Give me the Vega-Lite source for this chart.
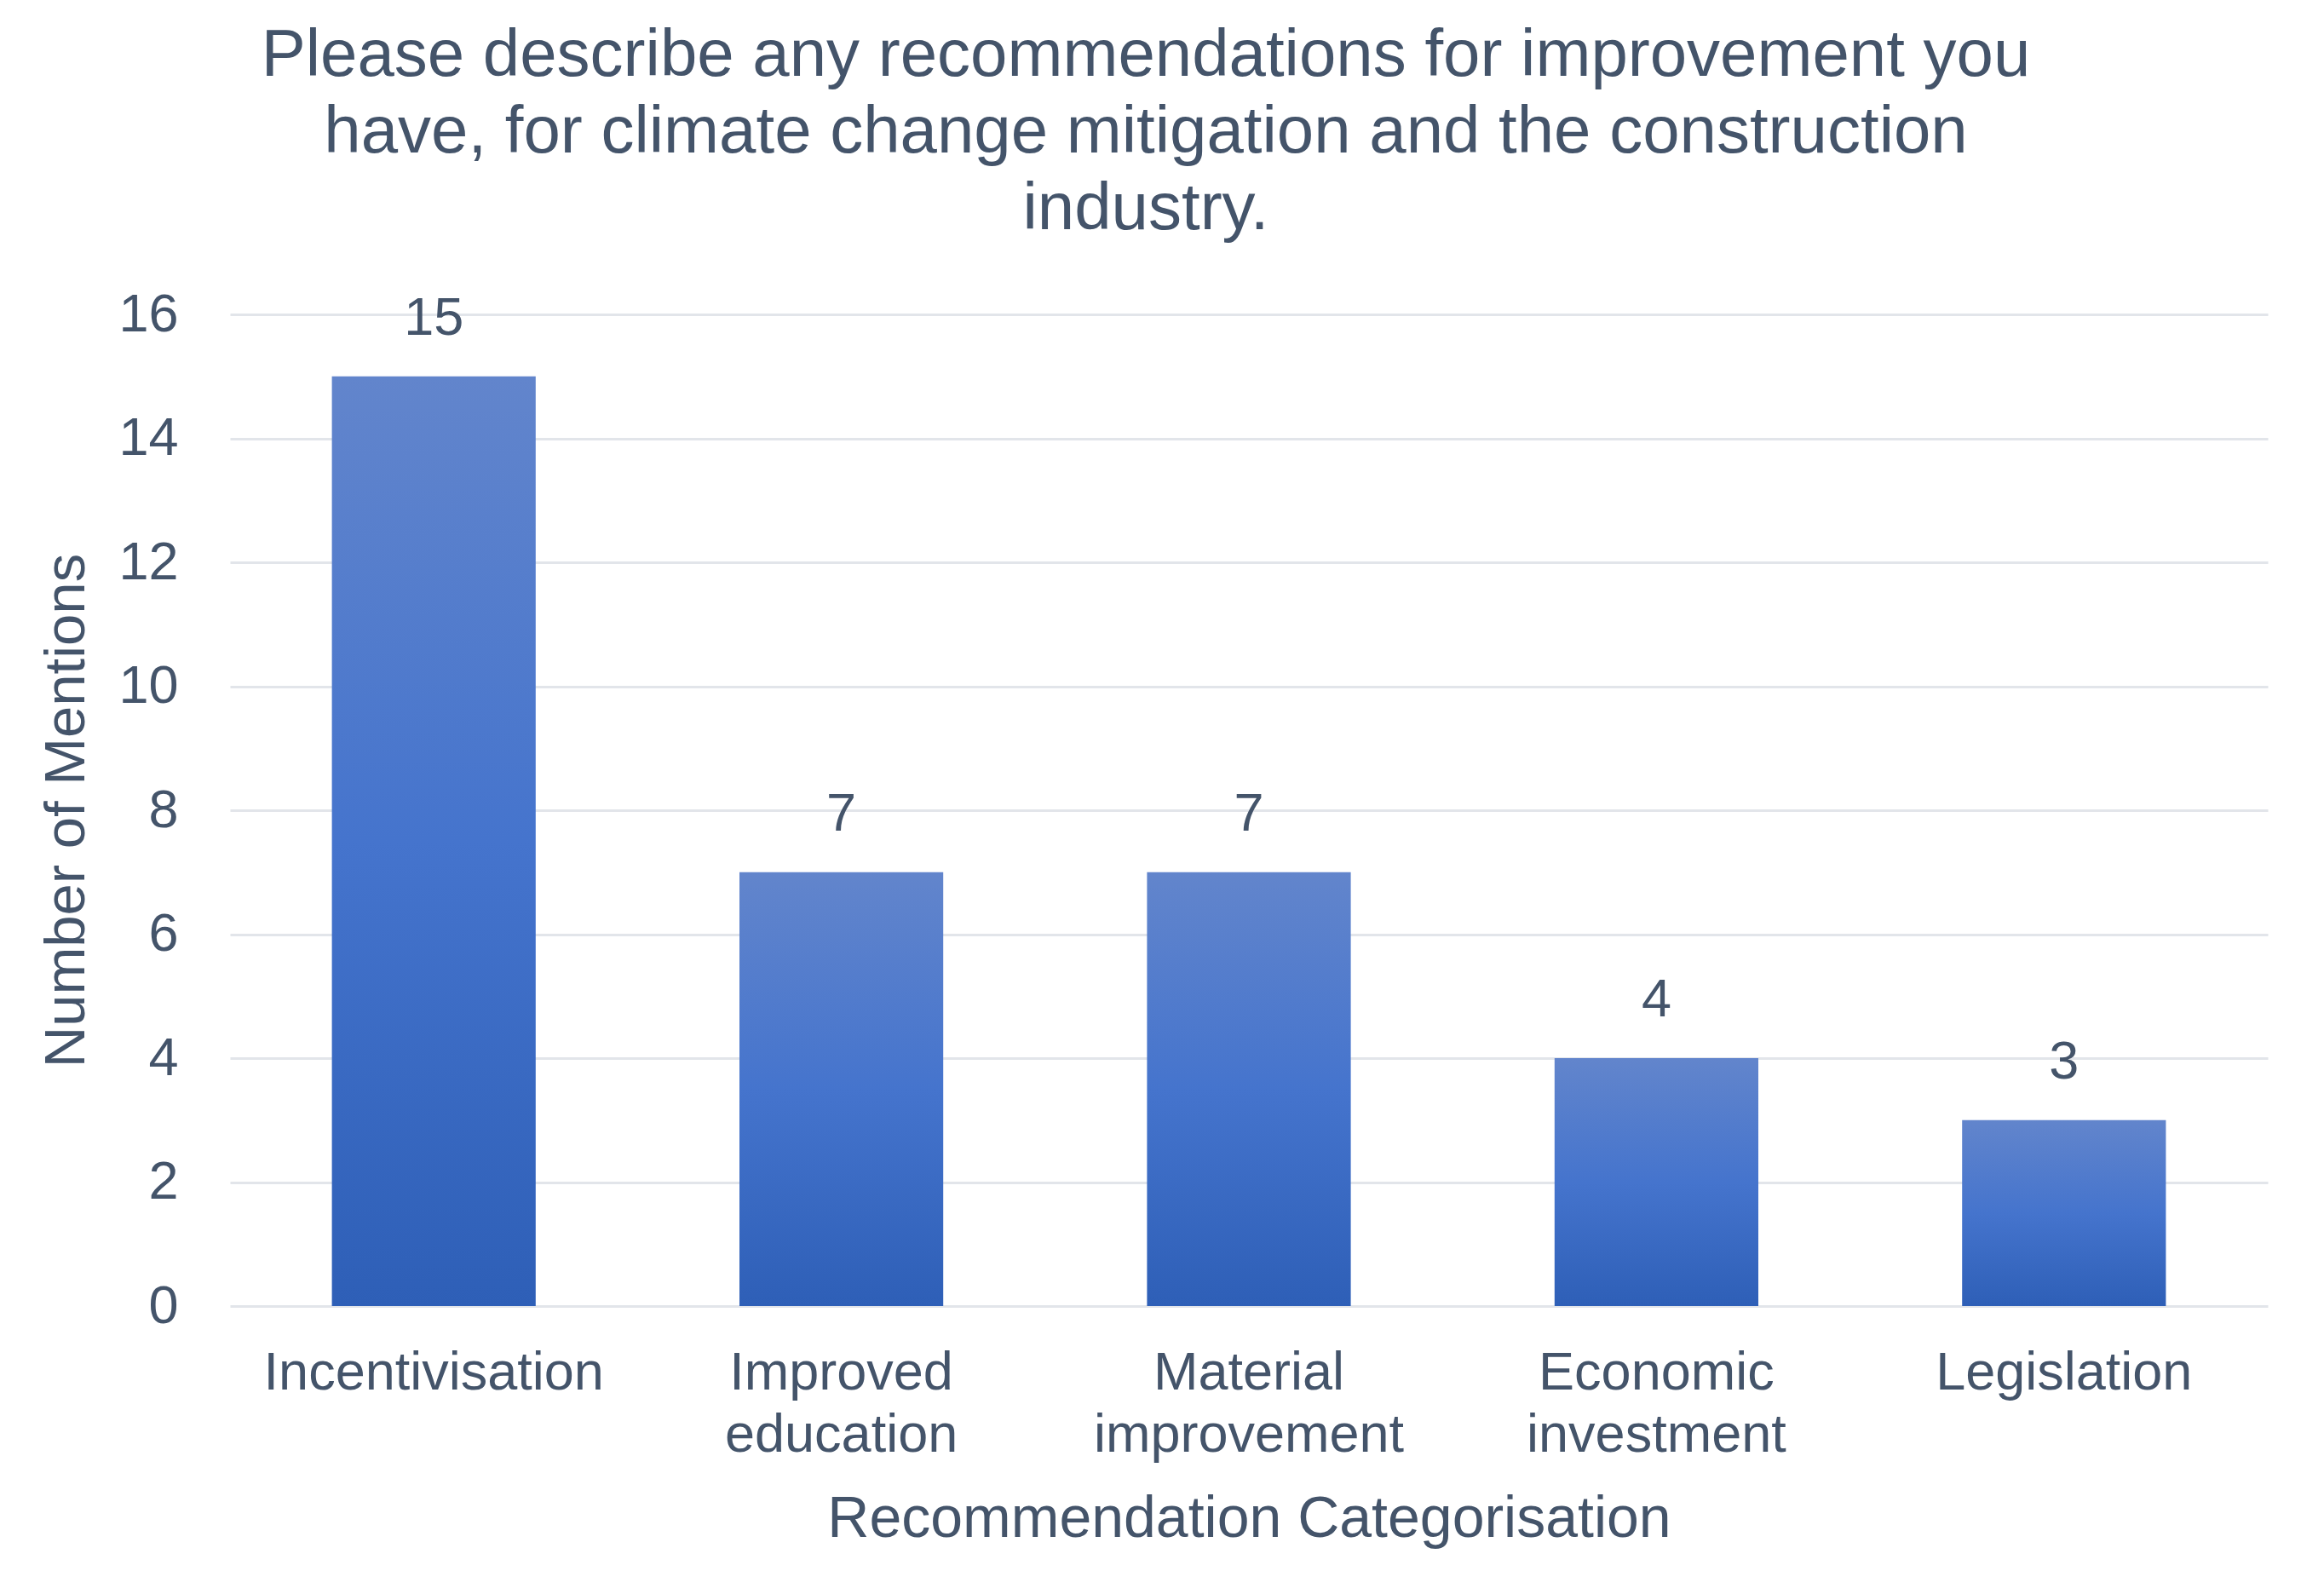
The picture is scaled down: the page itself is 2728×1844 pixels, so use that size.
{
  "$schema": "https://vega.github.io/schema/vega-lite/v6.json",
  "autosize": {"type": "none"},
  "padding": {"left": 270, "top": 369, "right": 66, "bottom": 311},
  "width": 2392,
  "height": 1164,
  "background": "white",
  "config": {"view": {"stroke": null}},
  "title": {
    "text": ["Please describe any recommendations for improvement you", "have, for climate change mitigation and the construction", "industry."],
    "font": "Liberation Sans",
    "fontSize": 78,
    "fontWeight": "normal",
    "color": "#44546A",
    "lineHeight": 90,
    "anchor": "middle",
    "frame": "group",
    "dx": -121,
    "offset": 53
  },
  "data": {
    "values": [
      {"category": "Incentivisation", "mentions": 15},
      {"category": "Improved education", "mentions": 7},
      {"category": "Material improvement", "mentions": 7},
      {"category": "Economic investment", "mentions": 4},
      {"category": "Legislation", "mentions": 3}
    ]
  },
  "encoding": {
    "x": {
      "field": "category",
      "type": "nominal",
      "sort": null,
      "scale": {"paddingInner": 0.5, "paddingOuter": 0.25},
      "axis": {
        "title": "Recommendation Categorisation",
        "titleFont": "Liberation Sans",
        "titleFontSize": 68,
        "titleFontWeight": "normal",
        "titleColor": "#44546A",
        "titleBaseline": "middle",
        "titleY": 250,
        "labelFont": "Liberation Sans",
        "labelFontSize": 63,
        "labelColor": "#44546A",
        "labelAngle": 0,
        "labelPadding": 47,
        "labelLineHeight": 73,
        "labelLimit": 0,
        "labelExpr": "indexof(datum.label, ' ') > 0 ? split(datum.label, ' ') : datum.label",
        "ticks": false,
        "domain": false,
        "grid": false
      }
    },
    "y": {
      "field": "mentions",
      "type": "quantitative",
      "scale": {"domain": [0, 16]},
      "axis": {
        "title": "Number of Mentions",
        "titleFont": "Liberation Sans",
        "titleFontSize": 67,
        "titleFontWeight": "normal",
        "titleColor": "#44546A",
        "titleBaseline": "middle",
        "titleX": -192,
        "labelFont": "Liberation Sans",
        "labelFontSize": 63,
        "labelColor": "#44546A",
        "labelPadding": 61,
        "values": [0, 2, 4, 6, 8, 10, 12, 14, 16],
        "ticks": false,
        "domain": false,
        "grid": true,
        "gridColor": "#E2E5EA",
        "gridWidth": 3
      }
    }
  },
  "layer": [
    {
      "mark": {
        "type": "bar",
        "color": {
          "gradient": "linear",
          "x1": 0, "y1": 0, "x2": 0, "y2": 1,
          "stops": [
            {"offset": 0, "color": "#6285CC"},
            {"offset": 0.5, "color": "#4574CD"},
            {"offset": 1, "color": "#2E5FB7"}
          ]
        }
      }
    },
    {
      "mark": {
        "type": "text",
        "font": "Liberation Sans",
        "fontSize": 63,
        "color": "#44546A",
        "baseline": "middle",
        "dy": -68
      },
      "encoding": {"text": {"field": "mentions", "type": "quantitative"}}
    }
  ]
}
